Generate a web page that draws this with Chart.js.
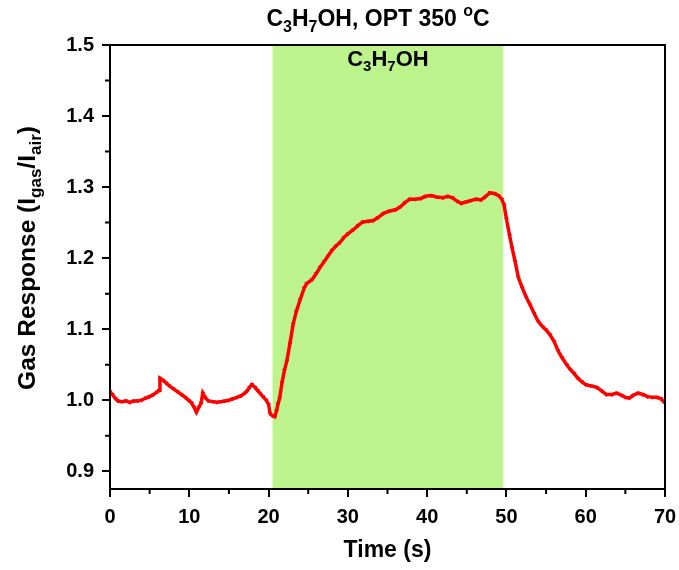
<!DOCTYPE html>
<html>
<head>
<meta charset="utf-8">
<script src="https://cdn.jsdelivr.net/npm/chart.js@4/dist/chart.umd.min.js"></script>
<style>
  body { margin: 0; background: #fff; }
  #wrap { width: 679px; height: 570px; }
</style>
</head>
<body>
<div id="wrap"><canvas id="gasChart" width="679" height="570"></canvas></div>
<script>
// time (s) and gas response
const timeS = [0.0, 0.3, 0.7, 1.0, 1.5, 2.0, 2.5, 3.0, 3.5, 4.0, 4.5, 5.0, 5.5, 6.0, 6.2, 6.3, 6.7, 7.1, 7.5, 8.0,
  8.5, 9.0, 9.5, 10.0, 10.3, 10.6, 10.9, 11.2, 11.5, 11.7, 12.0, 12.4, 13.0, 13.5, 14.0, 14.5, 15.0, 15.5, 16.0, 16.5,
  17.0, 17.3, 17.6, 17.9, 18.3, 18.6, 18.9, 19.3, 19.7, 20.0, 20.2, 20.5, 20.8, 21.0, 21.2, 21.4, 21.7, 22.0, 22.3, 22.7,
  23.1, 23.5, 24.0, 24.5, 24.8, 25.5, 26.0, 26.5, 27.0, 27.5, 28.0, 28.5, 29.0, 29.5, 30.0, 30.7, 31.3, 31.9, 32.6, 33.2,
  33.8, 34.5, 35.2, 36.0, 36.6, 37.2, 37.8, 38.5, 39.2, 39.8, 40.5, 41.2, 42.0, 42.6, 43.2, 43.8, 44.3, 44.9, 45.5, 46.2,
  46.8, 47.3, 47.9, 48.5, 49.0, 49.4, 49.7, 50.0, 50.4, 50.7, 51.1, 51.5, 52.0, 52.5, 53.0, 53.5, 54.0, 54.6, 55.0, 55.5,
  56.0, 56.5, 57.0, 57.6, 58.0, 58.5, 59.0, 59.5, 60.0, 60.7, 61.4, 62.0, 62.6, 63.3, 63.9, 64.5, 65.0, 65.5, 66.0, 66.6,
  67.2, 67.8, 68.4, 69.0, 69.5, 70.0];
const response = [1.012, 1.008, 1.002, 0.999, 0.998, 0.999, 0.997, 0.999, 0.999, 1.000, 1.003, 1.005, 1.008, 1.012, 1.014, 1.031, 1.028, 1.024, 1.020, 1.016,
  1.012, 1.008, 1.004, 0.999, 0.996, 0.990, 0.983, 0.990, 0.996, 1.010, 1.004, 0.999, 0.998, 0.997, 0.998, 0.999, 1.000, 1.002, 1.004, 1.006,
  1.010, 1.013, 1.018, 1.022, 1.018, 1.014, 1.010, 1.005, 1.000, 0.994, 0.981, 0.978, 0.977, 0.985, 0.995, 1.003, 1.025, 1.042, 1.055, 1.080,
  1.107, 1.125, 1.142, 1.158, 1.164, 1.170, 1.178, 1.187, 1.195, 1.203, 1.211, 1.217, 1.222, 1.229, 1.234, 1.240, 1.246, 1.251, 1.252, 1.253,
  1.257, 1.263, 1.266, 1.268, 1.272, 1.278, 1.283, 1.283, 1.284, 1.287, 1.288, 1.286, 1.285, 1.287, 1.285, 1.280, 1.277, 1.279, 1.281, 1.283,
  1.282, 1.286, 1.292, 1.291, 1.288, 1.283, 1.275, 1.255, 1.232, 1.215, 1.195, 1.173, 1.158, 1.145, 1.134, 1.122, 1.111, 1.103, 1.099, 1.092,
  1.083, 1.070, 1.060, 1.050, 1.044, 1.038, 1.031, 1.026, 1.022, 1.020, 1.018, 1.013, 1.008, 1.008, 1.010, 1.007, 1.004, 1.003, 1.007, 1.010,
  1.008, 1.005, 1.004, 1.004, 1.002, 0.996];

const xTicks = [0, 10, 20, 30, 40, 50, 60, 70];
const yTicks = [0.9, 1.0, 1.1, 1.2, 1.3, 1.4, 1.5];
const gasOn = [20.5, 49.6]; // exposure window

const FONT = '"Liberation Sans", Arial, sans-serif';

// draw text with sub/superscripts, parts: [text, mode] mode 0 normal, 1 sub, 2 sup
function drawRich(ctx, parts, x, y, size) {
  const small = Math.round(size * 0.7);
  let w = 0;
  parts.forEach(p => {
    ctx.font = 'bold ' + (p[1] ? small : size) + 'px ' + FONT;
    w += ctx.measureText(p[0]).width;
  });
  let cx = x - w / 2;
  ctx.textAlign = 'left';
  ctx.textBaseline = 'middle';
  parts.forEach(p => {
    ctx.font = 'bold ' + (p[1] ? small : size) + 'px ' + FONT;
    let dy = 0;
    if (p[1] === 1) dy = size * 0.32;
    if (p[1] === 2) dy = -size * 0.38;
    ctx.fillText(p[0], cx, y + dy);
    cx += ctx.measureText(p[0]).width;
  });
}

const decor = {
  id: 'decor',
  beforeDatasetsDraw(chart) {
    const { ctx, chartArea, scales } = chart;
    const x0 = scales.x.getPixelForValue(gasOn[0]);
    const x1 = scales.x.getPixelForValue(gasOn[1]);
    ctx.save();
    ctx.fillStyle = '#bdf38d';
    ctx.fillRect(x0, chartArea.top, x1 - x0, chartArea.bottom - chartArea.top);
    ctx.restore();
  },
  afterDraw(chart) {
    const { ctx, chartArea, scales } = chart;
    ctx.save();
    ctx.strokeStyle = '#000';
    ctx.lineWidth = 2;
    ctx.beginPath();
    ctx.rect(chartArea.left, chartArea.top, chartArea.right - chartArea.left, chartArea.bottom - chartArea.top);
    ctx.stroke();
    // minor ticks
    ctx.beginPath();
    for (let v = 5; v < 70; v += 10) {
      const px = scales.x.getPixelForValue(v);
      ctx.moveTo(px, chartArea.bottom);
      ctx.lineTo(px, chartArea.bottom + 5);
    }
    for (let v = 0.95; v < 1.5; v += 0.1) {
      const py = scales.y.getPixelForValue(v);
      ctx.moveTo(chartArea.left, py);
      ctx.lineTo(chartArea.left - 5, py);
    }
    ctx.stroke();

    ctx.fillStyle = '#000';
    drawRich(ctx, [['C', 0], ['3', 1], ['H', 0], ['7', 1], ['OH, OPT 350 ', 0], ['o', 2], ['C', 0]], 378, 20, 23);
    const gx = (scales.x.getPixelForValue(gasOn[0]) + scales.x.getPixelForValue(gasOn[1])) / 2;
    drawRich(ctx, [['C', 0], ['3', 1], ['H', 0], ['7', 1], ['OH', 0]], gx, 60, 22);

    ctx.translate(28, 258);
    ctx.rotate(-Math.PI / 2);
    drawRich(ctx, [['Gas Response (I', 0], ['gas', 1], ['/I', 0], ['air', 1], [')', 0]], 0, 0, 24.5);
    ctx.restore();
  }
};

new Chart(document.getElementById('gasChart').getContext('2d'), {
  type: 'line',
  data: {
    labels: timeS,
    datasets: [{
      data: timeS.map((t, i) => ({ x: t, y: response[i] })),
      borderColor: '#ff0000',
      backgroundColor: '#ff0000',
      borderWidth: 3.5,
      pointStyle: 'triangle',
      rotation: 180,
      pointRadius: 2,
      pointBorderWidth: 1,
      tension: 0
    }]
  },
  options: {
    responsive: false,
    animation: false,
    layout: { padding: { top: 45, right: 14, left: 0, bottom: 0 } },
    plugins: { legend: { display: false }, tooltip: { enabled: false } },
    scales: {
      x: {
        type: 'linear',
        min: 0,
        max: 70,
        afterBuildTicks: s => { s.ticks = xTicks.map(v => ({ value: v })); },
        afterFit: s => { s.height = 81; s.paddingRight = 0; s.paddingLeft = 0; },
        grid: { drawOnChartArea: false, drawTicks: true, tickLength: 8, color: '#000', lineWidth: 2 },
        border: { display: true, color: '#000', width: 2 },
        ticks: { color: '#000', font: { family: FONT, size: 20, weight: 'bold' }, padding: 8, maxRotation: 0 },
        title: { display: true, text: 'Time (s)', color: '#000', font: { family: FONT, size: 23, weight: 'bold' }, padding: { top: 6, bottom: 6 } }
      },
      y: {
        min: 0.875,
        max: 1.5,
        afterBuildTicks: s => { s.ticks = yTicks.map(v => ({ value: v })); },
        afterFit: s => { s.width = 110; },
        grid: { drawOnChartArea: false, drawTicks: true, tickLength: 8, color: '#000', lineWidth: 2 },
        border: { display: true, color: '#000', width: 2 },
        ticks: { color: '#000', font: { family: FONT, size: 20, weight: 'bold' }, padding: 8, callback: v => v.toFixed(1) }
      }
    }
  },
  plugins: [decor]
});
</script>
</body>
</html>
